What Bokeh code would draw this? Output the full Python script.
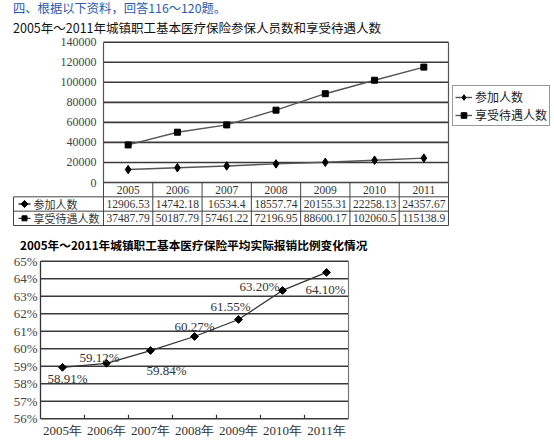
import math
from bokeh.plotting import figure
from bokeh.models import Range1d, Legend, LegendItem
from bokeh.embed import file_html
from bokeh.resources import INLINE
from bokeh.core.properties import value

# ---------------- data ----------------
years = ["2005", "2006", "2007", "2008", "2009", "2010", "2011"]
participants = [12906.53, 14742.18, 16534.4, 18557.74, 20155.31, 22258.13, 24357.67]
beneficiaries = [37487.79, 50187.79, 57461.22, 72196.95, 88600.17, 102060.5, 115138.9]
participants_text = ["12906.53", "14742.18", "16534.4", "18557.74", "20155.31", "22258.13", "24357.67"]
beneficiaries_text = ["37487.79", "50187.79", "57461.22", "72196.95", "88600.17", "102060.5", "115138.9"]
series_names = ["参加人数", "享受待遇人数"]
top_ticks = [0, 20000, 40000, 60000, 80000, 100000, 120000, 140000]

rate_years = ["2005年", "2006年", "2007年", "2008年", "2009年", "2010年", "2011年"]
rate_plotted = [58.94, 59.17, 59.90, 60.70, 61.67, 63.33, 64.36]
rate_labels = ["58.91%", "59.12%", "59.84%", "60.27%", "61.55%", "63.20%", "64.10%"]
rate_ticks = [56, 57, 58, 59, 60, 61, 62, 63, 64, 65]

header_text = "四、根据以下资料，回答116～120题。"
title_top = "2005年～2011年城镇职工基本医疗保险参保人员数和享受待遇人数"
title_bottom = "2005年～2011年城镇职工基本医疗保险平均实际报销比例变化情况"

# ---------------- layout (canvas pixels) ----------------
W, H = 554, 443
TOP_L, TOP_R, TOP_T, TOP_B = 103, 448, 41.7, 182
TBL_B, TBL_LEFT_PX = 225, 13
BOT_L, BOT_R, BOT_T, BOT_B = 40, 348, 260.7, 418.3

SERIF = "Liberation Serif"
CJK = "Noto Sans CJK SC"
GRID = "#3a3a3a"
DIAMOND = dict(marker="square", angle=math.pi / 4)


def lin_range(a, pa, b, pb, total):
    k = (b - a) / (pb - pa)
    start = a - pa * k
    return Range1d(start, start + total * k)


n = len(years)
p = figure(width=W, height=H, x_range=Range1d(0, W), y_range=Range1d(H, 0),
           output_backend="svg", toolbar_location=None,
           x_axis_location=None, y_axis_location=None,
           min_border_left=0, min_border_right=0, min_border_top=0, min_border_bottom=0)
p.grid.grid_line_color = None
p.outline_line_color = None

p.extra_x_ranges = {
    "tx": lin_range(0, TOP_L, n, TOP_R, W),
    "bx": lin_range(0, BOT_L, n, BOT_R, W),
}
p.extra_y_ranges = {
    "ty": lin_range(top_ticks[0], H - TOP_B, top_ticks[-1], H - TOP_T, H),
    "tb": lin_range(0, H - TBL_B, 3, H - TOP_B, H),
    "by": lin_range(rate_ticks[0], H - BOT_B, rate_ticks[-1], H - BOT_T, H),
}
T = dict(x_range_name="tx", y_range_name="ty")
TB = dict(x_range_name="tx", y_range_name="tb")
B = dict(x_range_name="bx", y_range_name="by")

# ---------------- header texts ----------------
p.text(x=[12.5], y=[7], text=[header_text], text_align="left", text_baseline="middle",
       text_font=value(CJK), text_font_size="12.3px", text_color="#2b5aa8")
p.text(x=[12.5], y=[27], text=[title_top], text_align="left", text_baseline="middle",
       text_font=value(CJK), text_font_size="12.5px", text_color="#111")

# ================= top chart =================
p.segment(x0=[0] * len(top_ticks), y0=top_ticks, x1=[n] * len(top_ticks), y1=top_ticks,
          line_color=GRID, line_width=1.6, **T)
p.segment(x0=[0, n], y0=[top_ticks[0]] * 2, x1=[0, n], y1=[top_ticks[-1]] * 2,
          line_color="#555", line_width=1.2, **T)
p.text(x=[0] * len(top_ticks), y=top_ticks, text=[str(t) for t in top_ticks], x_offset=-7,
       text_align="right", text_baseline="middle", text_font=value(SERIF),
       text_font_size="12px", text_color="#444", **T)

cx = [i + 0.5 for i in range(n)]
l1 = p.line(cx, participants, line_color="#555", line_width=1.4, **T)
m1 = p.scatter(cx, participants, marker="diamond", size=8.5, color="black", **T)
l2 = p.line(cx, beneficiaries, line_color="#555", line_width=1.4, **T)
m2 = p.scatter(cx, beneficiaries, marker="square", size=6, color="black", **T)

legend = Legend(items=[LegendItem(label=series_names[0], renderers=[l1, m1]),
                       LegendItem(label=series_names[1], renderers=[l2, m2])],
                location=(452, 317), margin=0, padding=2, spacing=1,
                glyph_width=17, glyph_height=14, label_height=14, label_standoff=3,
                label_text_font=CJK, label_text_font_size="12px", label_text_color="#222",
                border_line_color="#333", border_line_width=1, background_fill_color="white",
                background_fill_alpha=1)
p.add_layout(legend)

# ================= table =================
u = (TOP_R - TOP_L) / n
left_edge = (TBL_LEFT_PX - TOP_L) / u
hx0 = [0] + [left_edge] * 3
hy = [3, 2, 1, 0]
p.segment(x0=hx0, y0=hy, x1=[n] * 4, y1=hy, line_color="#444", line_width=1, **TB)
vx = list(range(n + 1)) + [left_edge]
p.segment(x0=vx, y0=[0] * (n + 2), x1=vx, y1=[3] * (n + 1) + [2],
          line_color="#444", line_width=1, **TB)

tstyle = dict(text_align="center", text_baseline="middle", text_font=value(SERIF),
              text_font_size="11.5px", text_color="#333")
p.text(x=cx, y=[2.5] * n, text=years, **tstyle, **TB)
p.text(x=cx, y=[1.5] * n, text=participants_text, **tstyle, **TB)
p.text(x=cx, y=[0.5] * n, text=beneficiaries_text, **tstyle, **TB)

kx0, kx1, km, kt = left_edge + 5 / u, left_edge + 17 / u, left_edge + 11 / u, left_edge + 20 / u
p.segment(x0=[kx0, kx0], y0=[1.5, 0.5], x1=[kx1, kx1], y1=[1.5, 0.5],
          line_color="#333", line_width=1.3, **TB)
p.scatter(x=[km], y=[1.5], size=5, color="black", **DIAMOND, **TB)
p.scatter(x=[km], y=[0.5], marker="square", size=5, color="black", **TB)
p.text(x=[kt, kt], y=[1.5, 0.5], text=series_names, text_align="left",
       text_baseline="middle", text_font=value(CJK), text_font_size="11px",
       text_color="#333", **TB)

# ================= bottom chart =================
p.text(x=[19.5], y=[244], text=[title_bottom], text_align="left", text_baseline="middle",
       text_font=value(CJK), text_font_size="11.7px", text_font_style="bold",
       text_color="#000")

nr = len(rate_years)
p.segment(x0=[0] * len(rate_ticks), y0=rate_ticks, x1=[nr] * len(rate_ticks), y1=rate_ticks,
          line_color=GRID, line_width=1.6, **B)
p.segment(x0=[0], y0=[rate_ticks[0]], x1=[0], y1=[rate_ticks[-1]],
          line_color="#333", line_width=1.3, **B)
p.segment(x0=[nr], y0=[rate_ticks[0]], x1=[nr], y1=[rate_ticks[-1]],
          line_color="#777", line_width=1.2, **B)
px_per_unit = (BOT_B - BOT_T) / (rate_ticks[-1] - rate_ticks[0])
bounds = list(range(1, nr))
p.segment(x0=bounds, y0=[rate_ticks[0]] * len(bounds), x1=bounds,
          y1=[rate_ticks[0] + 4 / px_per_unit] * len(bounds),
          line_color="#333", line_width=1.2, **B)
p.text(x=[0] * len(rate_ticks), y=rate_ticks, text=[f"{t}%" for t in rate_ticks], x_offset=-3,
       text_align="right", text_baseline="middle", text_font=value(SERIF),
       text_font_size="13px", text_color="#444", **B)
bcx = [i + 0.5 for i in range(nr)]
p.text(x=bcx, y=[rate_ticks[0]] * nr, text=rate_years, y_offset=12,
       text_align="center", text_baseline="middle", text_font=value(SERIF),
       text_font_size="13px", text_color="#333", **B)

p.line(bcx, rate_plotted, line_color="#333", line_width=1.3, **B)
p.scatter(bcx, rate_plotted, size=5.5, color="black", **DIAMOND, **B)

lab_dx = [5, -7, 16, 0, -8, -23, -1]
lab_dy = [11, -6, 20, -10, -13, -4, 17]
p.text(x=bcx, y=rate_plotted, text=rate_labels, x_offset=lab_dx, y_offset=lab_dy,
       text_align="center", text_baseline="middle", text_font=value(SERIF),
       text_font_size="13px", text_color="#333", **B)

open("out.html", "w").write(file_html(p, INLINE))
